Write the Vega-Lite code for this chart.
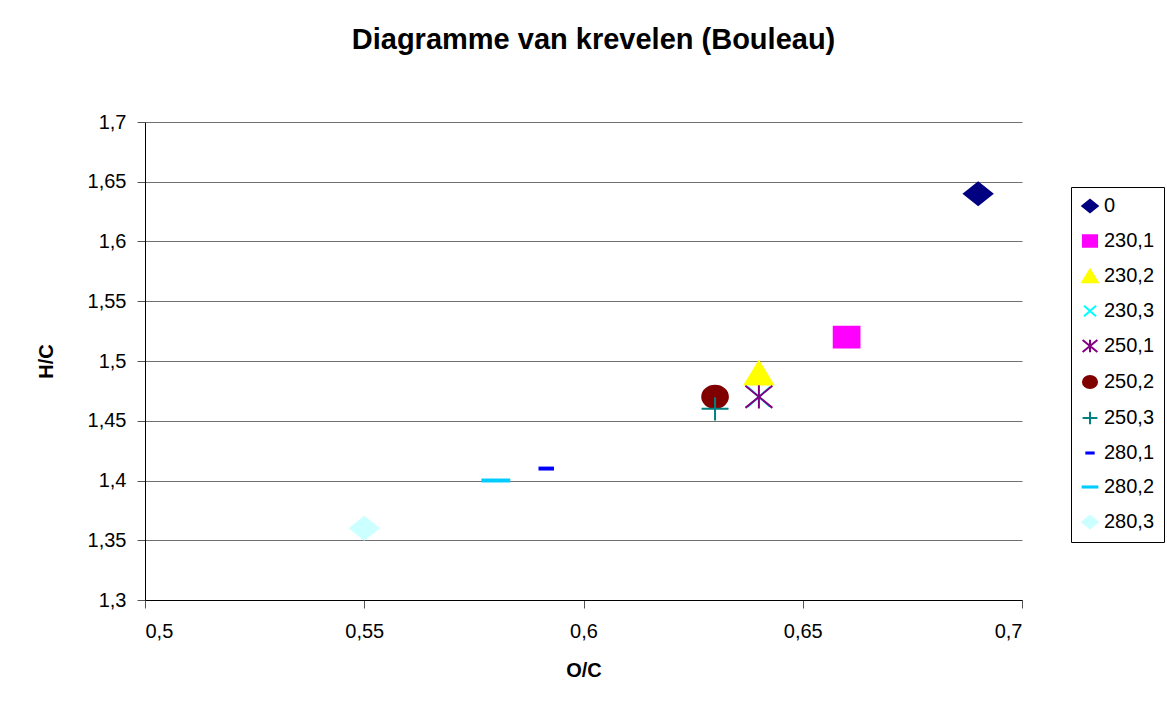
{
  "$schema": "https://vega.github.io/schema/vega-lite/v6.json",
  "width": 877,
  "height": 478,
  "autosize": {"type": "none"},
  "padding": {"left": 145, "top": 122, "right": 145, "bottom": 102},
  "background": "white",
  "title": {
    "text": "Diagramme van krevelen (Bouleau)",
    "font": "Liberation Sans",
    "fontSize": 29,
    "fontWeight": "bold",
    "color": "black",
    "anchor": "middle",
    "dx": 10,
    "offset": 57
  },
  "data": {
    "values": [
      {"serie": "0", "oc": 0.69, "hc": 1.64},
      {"serie": "230,1", "oc": 0.66, "hc": 1.52},
      {"serie": "230,2", "oc": 0.64, "hc": 1.49},
      {"serie": "230,3", "oc": 0.64, "hc": 1.47},
      {"serie": "250,1", "oc": 0.64, "hc": 1.47},
      {"serie": "250,2", "oc": 0.63, "hc": 1.47},
      {"serie": "250,3", "oc": 0.63, "hc": 1.46},
      {"serie": "280,1", "oc": 0.5915, "hc": 1.41},
      {"serie": "280,2", "oc": 0.58, "hc": 1.40},
      {"serie": "280,3", "oc": 0.55, "hc": 1.36}
    ]
  },
  "mark": {"type": "point", "filled": true, "size": 600, "strokeWidth": 2, "opacity": 1},
  "encoding": {
    "x": {
      "field": "oc", "type": "quantitative", "title": "O/C",
      "scale": {"domain": [0.5, 0.7], "nice": false, "zero": false},
      "axis": {
        "values": [0.5, 0.55, 0.6, 0.65, 0.7],
        "labelExpr": "replace(format(datum.value, '~g'), '.', ',')",
        "grid": false,
        "domainColor": "black", "tickColor": "#555", "tickSize": 8,
        "labelFont": "Liberation Sans", "labelFontSize": 20, "labelColor": "black", "labelPadding": 13,
        "titleFont": "Liberation Sans", "titleFontSize": 20, "titleFontWeight": "bold", "titleColor": "black", "titlePadding": 19
      }
    },
    "y": {
      "field": "hc", "type": "quantitative", "title": "H/C",
      "scale": {"domain": [1.3, 1.7], "nice": false, "zero": false},
      "axis": {
        "values": [1.3, 1.35, 1.4, 1.45, 1.5, 1.55, 1.6, 1.65, 1.7],
        "labelExpr": "replace(format(datum.value, '~g'), '.', ',')",
        "grid": true, "gridColor": "#707070", "gridWidth": 1,
        "domainColor": "black", "tickColor": "#555", "tickSize": 8,
        "labelFont": "Liberation Sans", "labelFontSize": 20, "labelColor": "black", "labelPadding": 11,
        "titleFont": "Liberation Sans", "titleFontSize": 20, "titleFontWeight": "bold", "titleColor": "black", "titlePadding": 31
      }
    },
    "shape": {
      "field": "serie", "type": "nominal", "title": null,
      "scale": {
        "domain": ["0", "230,1", "230,2", "230,3", "250,1", "250,2", "250,3", "280,1", "280,2", "280,3"],
        "range": [
          "M-1.15,0L0,-0.92L1.15,0L0,0.92Z",
          "M-1.05,-0.85L1.05,-0.85L1.05,0.85L-1.05,0.85Z",
          "M0,-0.95L1.15,0.95L-1.15,0.95Z",
          "M-0.9,-0.8L0.9,0.8M-0.9,0.8L0.9,-0.8",
          "M-1.1,-0.9L1.1,0.9M-1.1,0.9L1.1,-0.9M0,-0.95L0,0.95",
          "M-1.05,0A1.05,0.9 0 1,0 1.05,0A1.05,0.9 0 1,0 -1.05,0Z",
          "M-1.1,0L1.1,0M0,-0.95L0,0.95",
          "M-0.55,-0.08L0.55,-0.08L0.55,0.08L-0.55,0.08Z",
          "M-1.1,-0.08L1.1,-0.08L1.1,0.08L-1.1,0.08Z",
          "M-1.15,0L0,-0.92L1.15,0L0,0.92Z"
        ]
      }
    },
    "fill": {
      "field": "serie", "type": "nominal", "title": null,
      "scale": {
        "domain": ["0", "230,1", "230,2", "230,3", "250,1", "250,2", "250,3", "280,1", "280,2", "280,3"],
        "range": ["#000080", "#FF00FF", "#FFFF00", "#00FFFF", "#800080", "#800000", "#008080", "#0000FF", "#00CCFF", "#CCFFFF"]
      }
    },
    "stroke": {
      "field": "serie", "type": "nominal", "title": null,
      "scale": {
        "domain": ["0", "230,1", "230,2", "230,3", "250,1", "250,2", "250,3", "280,1", "280,2", "280,3"],
        "range": ["#000080", "#FF00FF", "#FFFF00", "#00FFFF", "#800080", "#800000", "#008080", "#0000FF", "#00CCFF", "#CCFFFF"]
      }
    }
  },
  "config": {
    "view": {"stroke": null},
    "legend": {
      "orient": "none",
      "legendX": 926,
      "legendY": 65,
      "strokeColor": "black",
      "fillColor": "white",
      "padding": 9,
      "symbolSize": 180,
      "symbolStrokeWidth": 2,
      "labelFont": "Liberation Sans",
      "labelFontSize": 20,
      "labelColor": "black",
      "labelOffset": 4,
      "rowPadding": 14,
      "symbolOpacity": 1
    }
  }
}
